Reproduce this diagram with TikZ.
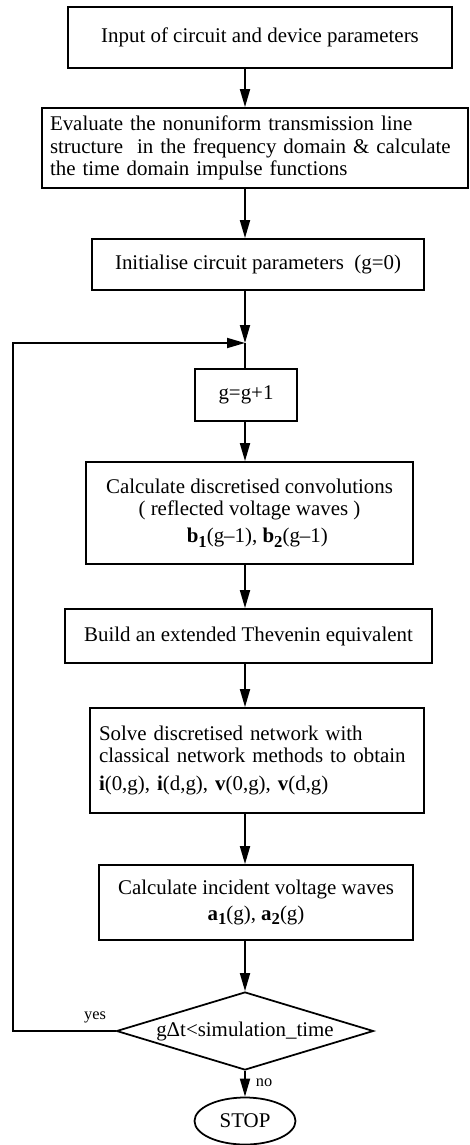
\documentclass[tikz,border=0pt]{standalone}
\usepackage{fontspec}
\setmainfont{Liberation Serif}
\usepackage{tikz}
\usetikzlibrary{arrows.meta}
\usetikzlibrary{shapes.geometric}
\newcommand{\wavesub}[1]{\raisebox{-0.45ex}{\fontsize{9.5}{10}\selectfont\textbf{#1}}}

\begin{document}
\begin{tikzpicture}[font=\fontsize{11.9}{12.6}\selectfont,
                      stepbox/.style={draw, line width=1pt, rectangle, inner sep=0pt, align=center},
                      flow/.style={line width=1pt, -{Triangle[length=0.36cm,width=0.2cm]}}]
                      \useasboundingbox (0,0) rectangle (9.38,-22.9);
                      \coordinate (spine) at (4.90,0);
                      \coordinate (loopleft) at (0.26,0);
                      \coordinate (loopjoin) at (4.90,-6.86);
                      \node[stepbox, minimum width=7.68cm, minimum height=1.22cm] (input) at (5.20,-0.75) {Input of circuit and device parameters};
                      \node[stepbox, minimum height=1.60cm, text width=8.20cm, inner xsep=0.16cm, align=left] (nonuni) at (5.10,-2.96) {Evaluate the nonuniform transmission line\\structure\ \ in the frequency domain \& calculate\\the time domain impulse functions};
                      \node[stepbox, minimum width=6.64cm, minimum height=1.02cm] (init) at (5.16,-5.29) {Initialise circuit parameters\ \ (g=0)};
                      \node[stepbox, minimum width=2.04cm, minimum height=1.04cm] (count) at (4.92,-7.90) {g=g+1};
                      \node[stepbox, minimum width=6.54cm, minimum height=2.04cm] (conv) at (4.99,-10.26) {Calculate discretised convolutions\\( reflected voltage waves )\\[3pt]\ \ \ \textbf{b}\wavesub{1}(g\textendash1), \textbf{b}\wavesub{2}(g\textendash1)};
                      \node[stepbox, minimum width=7.34cm, minimum height=1.08cm] (thev) at (4.97,-12.72) {Build an extended Thevenin equivalent};
                      \node[stepbox, minimum height=2.10cm, text width=6.32cm, inner xsep=0.18cm, align=left] (solve) at (5.14,-15.21) {Solve discretised network with\\classical network methods to obtain\\[3pt]\textbf{i}(0,g), \textbf{i}(d,g), \textbf{v}(0,g), \textbf{v}(d,g)};
                      \node[stepbox, minimum width=6.28cm, minimum height=1.50cm] (incid) at (5.12,-18.05) {Calculate incident voltage waves\\[2pt]\textbf{a}\wavesub{1}(g), \textbf{a}\wavesub{2}(g)};
                      \node[draw, diamond, aspect=3.3, line width=1pt, inner sep=0pt, minimum width=5.14cm, minimum height=1.56cm] (test) at (4.90,-20.62) {gΔt<simulation\_time};
                      \node[draw, ellipse, line width=1pt, inner sep=0pt, minimum width=2.02cm, minimum height=0.94cm] (stop) at (4.90,-22.42) {STOP};
                      \node[font=\fontsize{9.3}{10}\selectfont] (yes) at (1.90,-20.34) {yes};
                      \node[font=\fontsize{9.3}{10}\selectfont] (no) at (5.28,-21.66) {no};
                      \draw[flow] (input.south -| spine) -- (nonuni.north -| spine);
                      \draw[flow] (nonuni.south -| spine) -- (init.north -| spine);
                      \draw[flow] (init.south -| spine) -- (loopjoin);
                      \draw[line width=1pt] (loopjoin) -- (count.north -| spine);
                      \draw[flow] (count.south -| spine) -- (conv.north -| spine);
                      \draw[flow] (conv.south -| spine) -- (thev.north -| spine);
                      \draw[flow] (thev.south -| spine) -- (solve.north -| spine);
                      \draw[flow] (solve.south -| spine) -- (incid.north -| spine);
                      \draw[flow] (incid.south -| spine) -- (test.north);
                      \draw[flow] (test.south) -- (stop.north);
                      \draw[flow] (test.west) -- (test.west -| loopleft) |- (loopjoin);
                  \end{tikzpicture}
\end{document}
